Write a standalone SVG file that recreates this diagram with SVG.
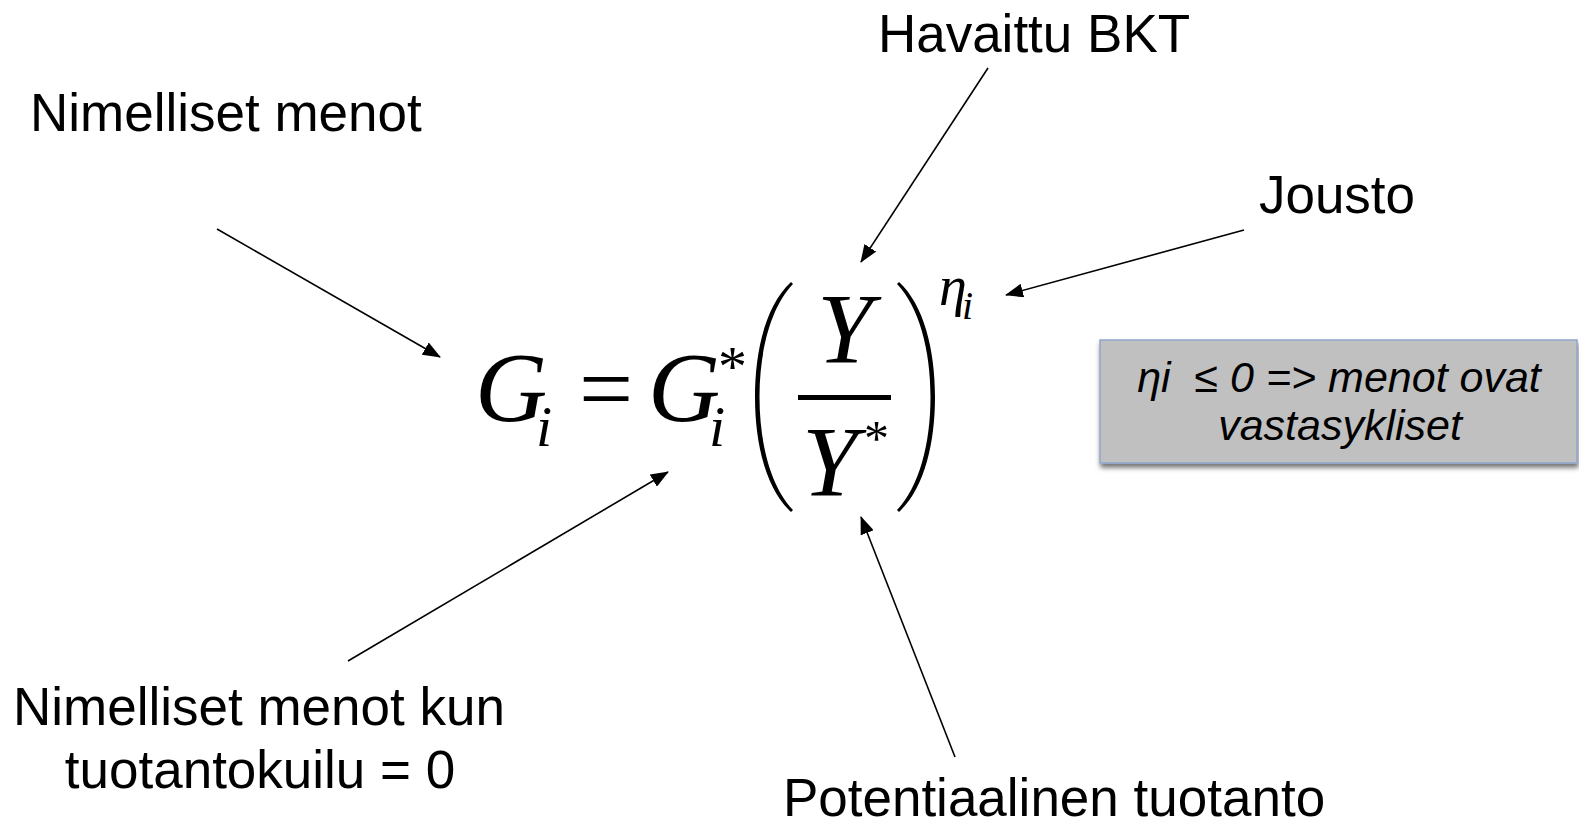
<svg xmlns="http://www.w3.org/2000/svg" width="1579" height="824" viewBox="0 0 1579 824">
<style>
.lbl{font-family:"Liberation Sans",Arial,sans-serif;font-size:53px;fill:#000;}
.box{font-family:"Liberation Sans",Arial,sans-serif;font-size:43px;font-style:italic;fill:#000;}
.m{font-family:"Liberation Serif","Times New Roman",serif;font-style:italic;fill:#000;}
.mu{font-style:normal;}
.conn{stroke:#000;stroke-width:1.6;fill:none;marker-end:url(#ah);}
</style>
<defs>
<marker id="ah" viewBox="0 0 18 14" refX="17" refY="7" markerWidth="18" markerHeight="14" markerUnits="userSpaceOnUse" orient="auto">
<path d="M0,0 L18,7 L0,14 Z" fill="#000"/>
</marker>
<filter id="sh" x="-5%" y="-10%" width="115%" height="140%">
<feDropShadow dx="1" dy="4" stdDeviation="2.5" flood-color="#000" flood-opacity="0.55"/>
</filter>
<path id="lp" d="M791 282 C766 305 755 350 755 397 C755 444 766 489 791 512 L793 510 C771 487 759.5 444 759.5 397 C759.5 350 771 307 793 284 Z" fill="#000"/>
</defs>

<g id="formula">
<text class="m" font-size="100"><tspan x="475" y="421">G</tspan><tspan x="536" y="446" font-size="58">i</tspan><tspan class="mu" x="579" y="421" font-size="96">=</tspan><tspan x="648" y="421">G</tspan><tspan x="709" y="446" font-size="58">i</tspan><tspan class="mu" x="718" y="386" font-size="58">*</tspan><tspan x="817" y="362">Y</tspan><tspan x="802" y="495">Y</tspan><tspan class="mu" x="864" y="455" font-size="50">*</tspan><tspan x="939" y="305" font-size="56">η</tspan><tspan x="962" y="319" font-size="40">i</tspan></text>
<use href="#lp"/>
<use href="#lp" transform="translate(1690,0) scale(-1,1)"/>
<rect x="798" y="395" width="93" height="5" fill="#000"/>
</g>

<g id="n-havaittu"><text class="lbl" x="1034" y="52" text-anchor="middle">Havaittu BKT</text></g>
<g id="n-nimelliset"><text class="lbl" x="30" y="131">Nimelliset menot</text></g>
<g id="n-jousto"><text class="lbl" x="1337" y="213" text-anchor="middle">Jousto</text></g>
<g id="n-kun"><text class="lbl" x="259" y="725" text-anchor="middle">Nimelliset menot kun</text><text class="lbl" x="260" y="788" text-anchor="middle">tuotantokuilu = 0</text></g>
<g id="n-potentiaalinen"><text class="lbl" x="1054" y="816" text-anchor="middle">Potentiaalinen tuotanto</text></g>

<g id="n-box">
<rect x="1100" y="340" width="477" height="123" fill="#c0c0c0" stroke="#8ea6cc" stroke-width="1.5" filter="url(#sh)"/>
<text class="box" x="1339" y="392" text-anchor="middle" xml:space="preserve">ηi  ≤ 0 =&gt; menot ovat</text>
<text class="box" x="1340" y="440" text-anchor="middle">vastasykliset</text>
</g>

<g id="connectors">
<line class="conn" x1="217" y1="229" x2="440" y2="357"/>
<line class="conn" x1="988" y1="68" x2="861" y2="262"/>
<line class="conn" x1="1244" y1="230" x2="1006" y2="295"/>
<line class="conn" x1="348" y1="661" x2="668" y2="472"/>
<line class="conn" x1="955" y1="757" x2="861" y2="517"/>
</g>
</svg>
